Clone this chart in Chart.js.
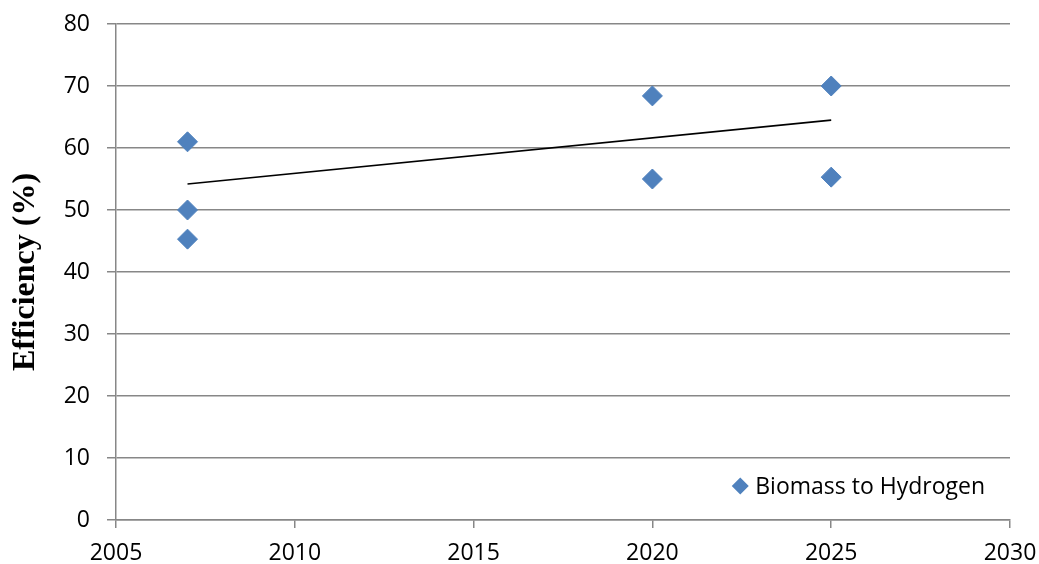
<!DOCTYPE html>
<html>
<head>
<meta charset="utf-8">
<script src="https://cdn.jsdelivr.net/npm/chart.js@4/dist/chart.umd.min.js"></script>
<style>
  html, body { margin: 0; padding: 0; background: #ffffff; }
  #wrap { position: relative; width: 1039px; height: 564px; }
</style>
</head>
<body>
<div id="wrap"><canvas id="chart" width="1039" height="564"></canvas></div>
<script>
// Measured efficiencies by year
const years = [2007, 2007, 2007, 2020, 2020, 2025, 2025];
const efficiency = [61, 50, 45.3, 68.4, 55, 70, 55.3];
const seriesName = 'Biomass to Hydrogen';

// Linear trend line end points
const trendYears = [2007, 2025];
const trendValues = [54.2, 64.5];

// Axis ranges
const xRange = [2005, 2030];
const xStep = 5;
const yRange = [0, 80];
const yStep = 10;
const yTitle = 'Efficiency (%)';

const gridColor = '#878787';
const markerColor = '#4F81BD';
const tickFont = { family: '"Open Sans", sans-serif', size: 23 };

// Drop label overhang so the plot area follows the layout padding alone
function clearOverhang(scale) {
  scale.paddingTop = 0;
  scale.paddingBottom = 0;
  scale.paddingLeft = 0;
  scale.paddingRight = 0;
}

// Legend drawn in the lower right corner of the plot area
const cornerLegend = {
  id: 'cornerLegend',
  afterDraw(chart) {
    const { ctx, chartArea } = chart;
    const ds = chart.data.datasets[0];
    ctx.save();
    ctx.font = tickFont.size + 'px ' + tickFont.family;
    ctx.textBaseline = 'middle';
    ctx.textAlign = 'left';
    const textW = ctx.measureText(ds.label).width;
    const y = chartArea.bottom - 34;
    const textX = chartArea.right - 25 - textW;
    const mx = textX - 15;
    const r = 8.5;
    ctx.fillStyle = ds.backgroundColor;
    ctx.beginPath();
    ctx.moveTo(mx - r, y);
    ctx.lineTo(mx, y - r);
    ctx.lineTo(mx + r, y);
    ctx.lineTo(mx, y + r);
    ctx.closePath();
    ctx.fill();
    ctx.fillStyle = '#000000';
    ctx.fillText(ds.label, textX, y + 1);
    ctx.restore();
  }
};

new Chart(document.getElementById('chart'), {
  type: 'scatter',
  data: {
    datasets: [
      {
        label: seriesName,
        data: years.map((x, i) => ({ x, y: efficiency[i] })),
        pointStyle: 'rectRot',
        pointRadius: 10,
        pointHoverRadius: 10,
        backgroundColor: markerColor,
        borderColor: markerColor,
        borderWidth: 1,
        order: 1
      },
      {
        label: 'Linear trend',
        type: 'line',
        data: trendYears.map((x, i) => ({ x, y: trendValues[i] })),
        borderColor: '#000000',
        borderWidth: 1.6,
        pointRadius: 0,
        fill: false,
        order: 2
      }
    ]
  },
  options: {
    responsive: false,
    animation: false,
    events: [],
    layout: { padding: { top: 24, right: 29, bottom: 0, left: 0 } },
    plugins: {
      legend: { display: false },
      tooltip: { enabled: false },
      title: { display: false }
    },
    scales: {
      x: {
        type: 'linear',
        min: xRange[0],
        max: xRange[1],
        afterFit(scale) { scale.height = 44; clearOverhang(scale); },
        ticks: {
          stepSize: xStep,
          color: '#000000',
          font: tickFont,
          padding: 12,
          maxRotation: 0,
          callback: v => String(v)
        },
        grid: {
          drawOnChartArea: false,
          drawTicks: true,
          tickLength: 8,
          color: gridColor,
          lineWidth: 1.5
        },
        border: { display: true, color: gridColor, width: 1.5 }
      },
      y: {
        type: 'linear',
        min: yRange[0],
        max: yRange[1],
        afterFit(scale) { scale.width = 116; clearOverhang(scale); },
        ticks: {
          stepSize: yStep,
          color: '#000000',
          font: tickFont,
          padding: 17
        },
        grid: {
          color: gridColor,
          lineWidth: 1.5,
          drawTicks: true,
          tickLength: 9
        },
        border: { display: true, color: gridColor, width: 1.5 },
        title: {
          display: true,
          text: yTitle,
          color: '#000000',
          font: { family: '"Liberation Serif", "Times New Roman", serif', size: 32, weight: 'bold', lineHeight: 1.2 },
          padding: { top: 7, bottom: 0 }
        }
      }
    }
  },
  plugins: [cornerLegend]
});
</script>
</body>
</html>
